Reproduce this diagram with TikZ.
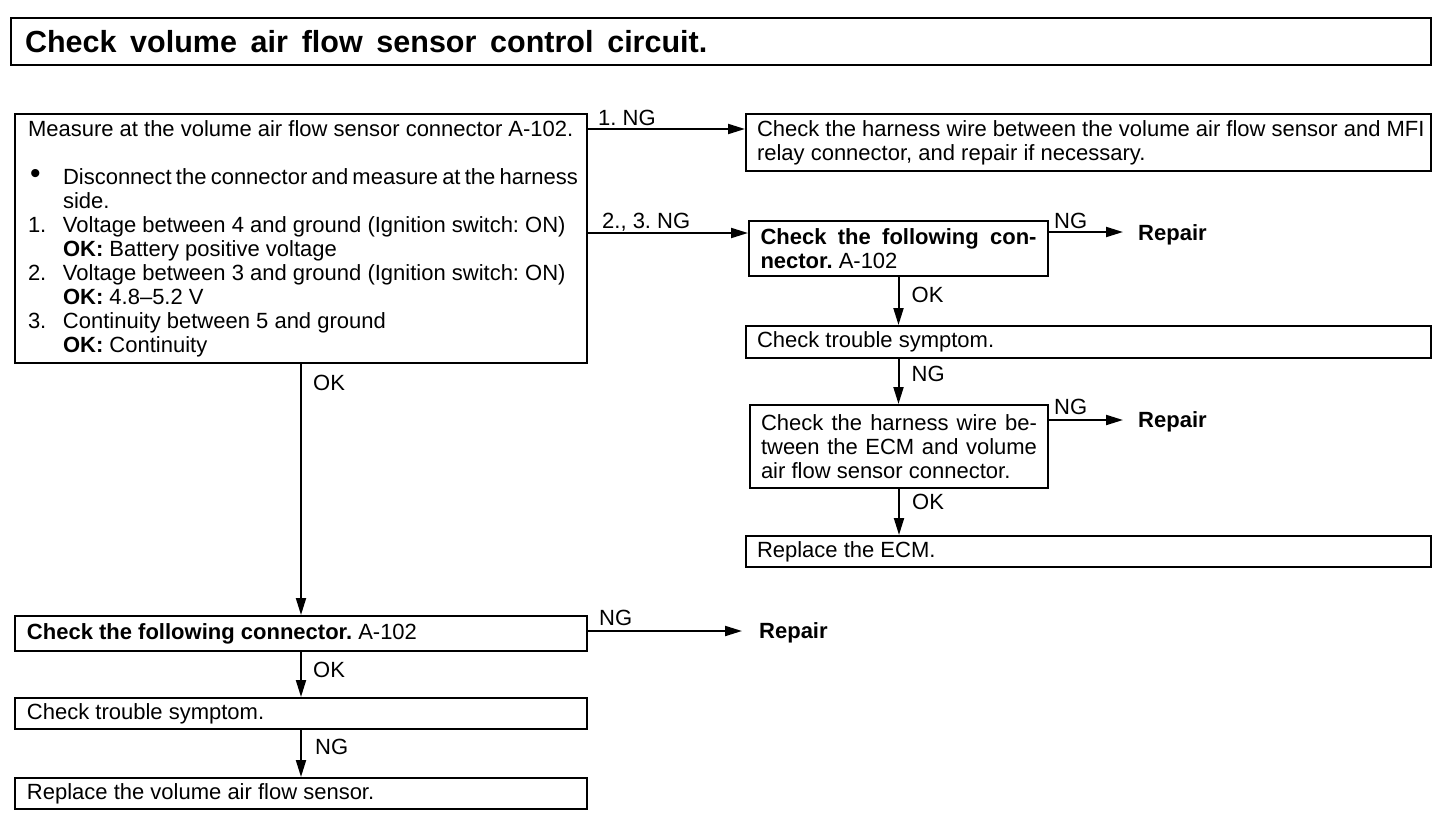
\documentclass[tikz,border=0pt]{standalone}
\usepackage{fontspec}
\setmainfont{Liberation Sans}
\usetikzlibrary{arrows.meta,calc}
\newcommand\bodyfs{\fontsize{22}{24}\selectfont}
\newcommand\itm[1]{\makebox[35pt][l]{#1}}
\newcommand\jline[2]{\makebox[#1][s]{\spaceskip=6pt plus 1fil\relax #2}}
\begin{document}
\frenchspacing
\begin{tikzpicture}[x=1pt,y=-1pt,
  box/.style={draw,line width=2pt,anchor=north west,inner ysep=0pt,align=left,font=\bodyfs,
              execute at begin node={\spaceskip=0pt\xspaceskip=0pt\relax}},
  arr/.style={line width=2pt,-{Triangle[length=17pt,width=10pt]}},
  lbl/.style={font=\bodyfs,inner sep=0pt,anchor=base west},
  okl/.style={font=\bodyfs,inner sep=0pt,anchor=west},
  rep/.style={font=\bodyfs\bfseries,inner sep=0pt,anchor=west}]
\useasboundingbox[fill=white] (0,0) rectangle (1440,816);

% title
\node[draw,line width=2pt,anchor=north west,minimum width=1418pt,minimum height=47pt,
      text width=1392pt,inner xsep=14pt,inner ysep=0pt,align=left,
      font=\fontsize{30.5}{36}\selectfont\bfseries] (title) at (10,17)
  {\spaceskip=0.45em Check volume air flow sensor control circuit.};

% main box
\node[box,minimum width=572pt,minimum height=249pt,text width=546pt,inner xsep=13pt] (m) at (14,113)
  {\mbox{Measure at the volume air flow sensor connector A-102.}\\[24pt]
   \itm{\hspace*{2pt}\raisebox{0.5pt}{\fontsize{30}{24}\selectfont •}}\mbox{\spaceskip=4.2pt\relax Disconnect the connector and measure at the harness}\\
   \itm{}side.\\
   \itm{1.}\mbox{Voltage between 4 and ground (Ignition switch: ON)}\\
   \itm{}\textbf{OK:} Battery positive voltage\\
   \itm{2.}\mbox{Voltage between 3 and ground (Ignition switch: ON)}\\
   \itm{}\textbf{OK:} 4.8–5.2 V\\
   \itm{3.}Continuity between 5 and ground\\
   \itm{}\textbf{OK:} Continuity};

% right column
\node[box,minimum width=685pt,minimum height=57pt,text width=663pt,inner xsep=11pt] (r1) at (745,113)
  {\mbox{Check the harness wire between the volume air flow sensor and MFI}\\
   relay connector, and repair if necessary.};
\node[box,minimum width=299pt,minimum height=55pt,text width=276pt,inner xsep=11.5pt] (c1) at (748,220)
  {\jline{276pt}{\bfseries Check the following con-}\\
   \textbf{nector.} A-102};
\node[box,minimum width=685pt,minimum height=32pt,text width=663pt,inner xsep=11pt] (t1) at (745,325)
  {Check trouble symptom.};
\node[box,minimum width=298pt,minimum height=83pt,text width=276pt,inner xsep=11pt] (h1) at (749,404)
  {\jline{276pt}{Check the harness wire be-}\\
   \jline{276pt}{tween the ECM and volume}\\
   air flow sensor connector.};
\node[box,minimum width=685pt,minimum height=31pt,text width=663pt,inner xsep=11pt] (e1) at (745,535)
  {Replace the ECM.};

% left column
\node[box,minimum width=572pt,minimum height=35pt,text width=548pt,inner xsep=12pt] (l1) at (14,615)
  {\textbf{Check the following connector.} A-102};
\node[box,minimum width=572pt,minimum height=31pt,text width=548pt,inner xsep=12pt] (l2) at (14,697)
  {Check trouble symptom.};
\node[box,minimum width=572pt,minimum height=31pt,text width=548pt,inner xsep=12pt] (l3) at (14,777)
  {Replace the volume air flow sensor.};

% main box -> right
\draw[arr] ([yshift=-16pt]m.north east) coordinate (a1) -- (a1 -| r1.west);
\node[lbl] (ng1) at ([xshift=10pt,yshift=4pt]a1) {1. NG};
\draw[arr] ([yshift=-120pt]m.north east) coordinate (a2) -- (a2 -| c1.west);
\node[lbl] (ng2) at ([xshift=14pt,yshift=5pt]a2) {2., 3. NG};

% c1 NG -> Repair
\coordinate (a3) at ([yshift=-12pt]c1.north east);
\node[rep] (rp1) at ([xshift=89pt,yshift=-3pt]a3) {Repair};
\draw[arr,shorten >=15pt] (a3) -- (a3 -| rp1.west);
\node[lbl] (ng3) at ([xshift=5pt,yshift=4pt]a3) {NG};

% right column down arrows
\draw[arr] (c1.south) -- (c1.south |- t1.north);
\node[okl] (ok1) at ([xshift=13pt,yshift=-18pt]c1.south) {OK};
\draw[arr] (c1.south |- t1.south) coordinate (b1) -- (c1.south |- h1.north);
\node[okl] (ng4) at ([xshift=13pt,yshift=-15pt]b1) {NG};
\draw[arr] (h1.south) -- (h1.south |- e1.north);
\node[okl] (ok2) at ([xshift=13pt,yshift=-13pt]h1.south) {OK};

% h1 NG -> Repair
\coordinate (a4) at ([yshift=-16pt]h1.north east);
\node[rep] (rp2) at ([xshift=89pt,yshift=-2pt]a4) {Repair};
\draw[arr,shorten >=15pt] (a4) -- (a4 -| rp2.west);
\node[lbl] (ng5) at ([xshift=5pt,yshift=6pt]a4) {NG};

% left column
\draw[arr] (m.south) -- (m.south |- l1.north);
\node[okl] (ok3) at ([xshift=12pt,yshift=-19pt]m.south) {OK};
\draw[arr] (l1.south) -- (l1.south |- l2.north);
\node[okl] (ok4) at ([xshift=12pt,yshift=-18pt]l1.south) {OK};
\draw[arr] (l2.south) -- (l2.south |- l3.north);
\node[okl] (ng6) at ([xshift=14pt,yshift=-17pt]l2.south) {NG};

% l1 NG -> Repair
\coordinate (a5) at ([yshift=-16pt]l1.north east);
\node[rep] (rp3) at ([xshift=171pt,yshift=-2pt]a5) {Repair};
\draw[arr,shorten >=17pt] (a5) -- (a5 -| rp3.west);
\node[lbl] (ng7) at ([xshift=11pt,yshift=6pt]a5) {NG};
\end{tikzpicture}
\end{document}
